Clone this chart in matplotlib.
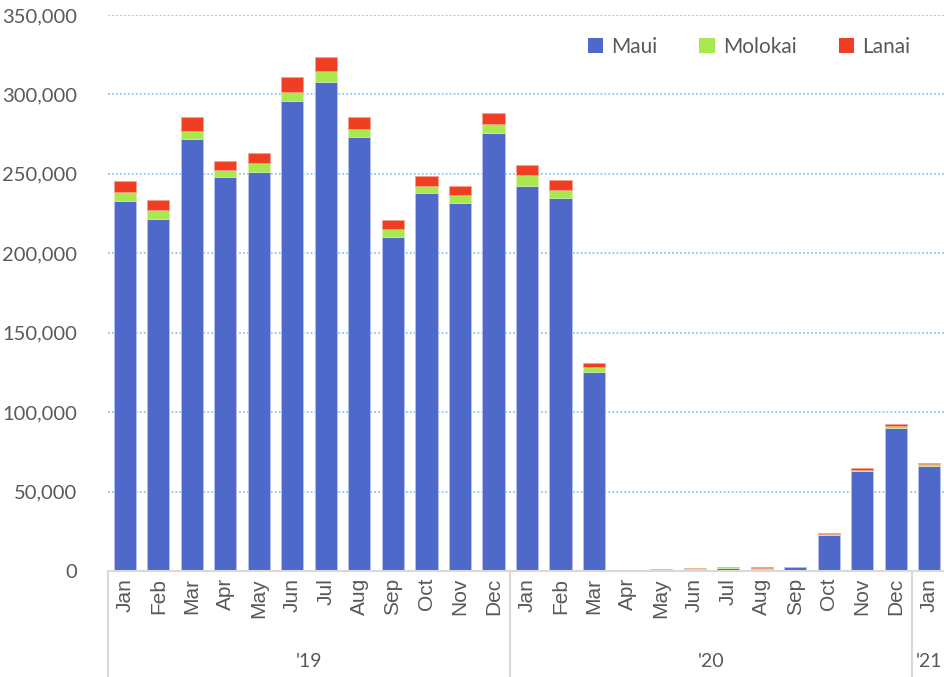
import matplotlib.pyplot as plt
import matplotlib.transforms as mtransforms
from matplotlib.ticker import FuncFormatter, MultipleLocator

months = ['Jan', 'Feb', 'Mar', 'Apr', 'May', 'Jun', 'Jul', 'Aug', 'Sep', 'Oct', 'Nov', 'Dec',
          'Jan', 'Feb', 'Mar', 'Apr', 'May', 'Jun', 'Jul', 'Aug', 'Sep', 'Oct', 'Nov', 'Dec',
          'Jan']
years = ["'19", "'20", "'21"]
year_counts = [12, 12, 1]

maui = [233100, 221300, 272200, 247800, 251400, 296100, 308100, 273400, 210400, 238100, 231800, 275900,
        242600, 235000, 125400, 400, 900, 1500, 2200, 1400, 2300, 22800, 63000, 90300,
        66300]
molokai = [5700, 5700, 5000, 4600, 5200, 5700, 6900, 5100, 5100, 4500, 5100, 5700,
           6900, 5000, 3100, 150, 200, 200, 300, 700, 200, 500, 800, 1000,
           900]
lanai = [6900, 6300, 8800, 5500, 6700, 9400, 8800, 7500, 5600, 6300, 5700, 6900,
         6300, 6300, 2500, 350, 300, 400, 300, 400, 300, 800, 1300, 1300,
         1000]

c_maui = '#4F69CB'
c_molokai = '#A9E84F'
c_lanai = '#F03E23'
grey = '#595959'

fig = plt.figure(figsize=(9.44, 6.77), dpi=100)
ax = fig.add_axes([108 / 944, 106 / 677, 838 / 944, 556 / 677])

x = list(range(len(months)))
bot2 = [a + b for a, b in zip(maui, molokai)]
ax.bar(x, maui, width=0.66, color=c_maui, edgecolor='#B9C3EC', linewidth=0.6, label='Maui')
ax.bar(x, molokai, width=0.66, bottom=maui, color=c_molokai, edgecolor='#D4F4A6', linewidth=0.4,
       label='Molokai')
ax.bar(x, lanai, width=0.66, bottom=bot2, color=c_lanai, edgecolor='#F5A08C', linewidth=0.5,
       label='Lanai')

ax.set_xlim(-0.5, len(months) - 0.5)
ax.set_ylim(0, 350000)
ax.yaxis.set_major_locator(MultipleLocator(50000))
ax.yaxis.set_major_formatter(FuncFormatter(lambda v, p: f'{int(v):,}'))
ax.grid(axis='y', color='#8CC6F0', linestyle=(0, (1, 1.2)), linewidth=1.3)
ax.set_axisbelow(True)

for s in ['top', 'right', 'left']:
    ax.spines[s].set_visible(False)
ax.spines['bottom'].set_color('#D9D9D9')
ax.spines['bottom'].set_linewidth(1.5)

ax.tick_params(axis='y', length=0, pad=22, labelsize=14.5, labelcolor=grey)
ax.tick_params(axis='x', length=0, pad=5)
ax.set_xticks(x)
ax.set_xticklabels(months, rotation=90, fontsize=15, color=grey, family='Liberation Sans')
for lab in ax.get_yticklabels():
    lab.set_family('Lato')

# group labels and separators under the axis
trans = mtransforms.blended_transform_factory(ax.transData, ax.transAxes)
start = 0
edges = [-0.5]
for yr, n in zip(years, year_counts):
    mid = start + (n - 1) / 2
    ax.text(mid, -0.163, yr, transform=trans, ha='center', va='center',
            fontsize=14, color=grey, family='Lato')
    start += n
    edges.append(start - 0.5)
for e in edges[:-1]:
    ax.plot([e, e], [0, -0.2], transform=trans, color='#D9D9D9', lw=1.5, clip_on=False)

leg = ax.legend(loc='upper right', ncol=3, frameon=False, bbox_to_anchor=(0.98, 0.995),
                handlelength=0.75, handleheight=0.75, columnspacing=2.0, handletextpad=0.4,
                prop={'family': 'Lato', 'size': 15})
for t in leg.get_texts():
    t.set_color(grey)
for h in leg.legend_handles:
    h.set_edgecolor('none')

fig.savefig('out.png', dpi=100)
